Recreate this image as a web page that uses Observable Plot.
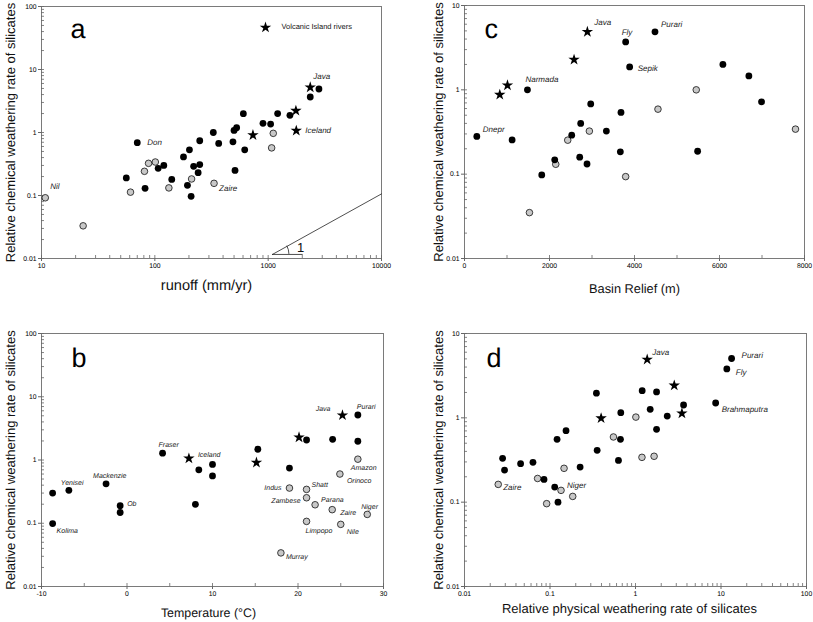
<!DOCTYPE html>
<html><head><meta charset="utf-8">
<script src="https://cdn.jsdelivr.net/npm/d3@7"></script>
<script src="https://cdn.jsdelivr.net/npm/@observablehq/plot@0.6"></script>
<style>
body{margin:0;background:#fff;}
#wrap{position:relative;width:813px;height:622px;overflow:hidden;background:#fff;}
.panel{position:absolute;opacity:0.999;}
.panel svg{font-family:"Liberation Sans",Arial,Helvetica,sans-serif;overflow:visible;text-rendering:geometricPrecision;}
</style></head><body><div id="wrap"></div>
<script>
// ---------- DATA ----------
const yLabel = "Relative chemical weathering rate of silicates";

// Panel a: runoff (mm/yr)
const runoffBlack = [[70,0.69],[56,0.19],[82,0.13],[107,0.27],[120,0.30],[141,0.18],[179,0.41],[202,0.53],[194,0.145],[209,0.097],[220,0.29],[241,0.23],[249,0.31],[249,0.74],[328,1.0],[366,0.67],[489,0.71],[500,1.08],[527,1.19],[510,0.25],[604,1.99],[621,0.53],[900,1.40],[1051,1.36],[1212,2.0],[1556,1.87],[2351,3.66],[2805,4.9]];
const runoffGray = [[10.8,0.092],[23.3,0.033],[61,0.113],[81,0.242],[88,0.324],[101,0.34],[133,0.132],[211,0.183],[333,0.156],[1109,0.97],[1073,0.57]];
const runoffStar = [[734,0.91],[1757,2.22],[1770,1.07],[2351,5.2]];
const runoffLabels = [["Don",70,0.69],["Nil",10.8,0.092],["Zaire",333,0.156],["Java",2351,5.2],["Iceland",1770,1.07]];
const slopeLine = [[1090,0.0116],[10000,0.106]];
const slopeBase = [[1090,0.0116],[2000,0.0116]];
const slopeText = [["1",1930,0.0148]];

// Panel b: temperature (°C)
const tempBlack = [[-8.7,0.30],[-8.7,0.099],[-6.8,0.331],[-2.45,0.42],[-0.8,0.189],[-0.8,0.148],[4.16,1.28],[8.0,0.199],[8.4,0.70],[10,0.85],[10,0.56],[15.3,1.48],[19,0.746],[21,2.07],[24.05,2.12],[27,1.98],[27,5.15]];
const tempGray = [[19,0.36],[21,0.343],[21,0.253],[22,0.196],[24,0.164],[24.9,0.60],[27,1.03],[28.1,0.138],[21,0.107],[25,0.096],[18,0.034]];
const tempStar = [[7.24,1.06],[15.14,0.91],[20.12,2.28],[25.2,5.1]];
const tempLabels = [["Kolima",-8.7,0.099],["Yenisei",-6.8,0.331],["Mackenzie",-2.45,0.42],["Ob",-0.8,0.189],["Fraser",4.16,1.28],["Iceland",7.24,1.06],["Java",25.2,5.1],["Purari",27,5.15],["Indus",19,0.36],["Shatt",21,0.343],["Zambese",21,0.253],["Parana",22,0.196],["Zaire",24,0.164],["Orinoco",24.9,0.60],["Amazon",27,1.03],["Niger",28.1,0.138],["Limpopo",21,0.107],["Nile",25,0.096],["Murray",18,0.034]];

// Panel c: basin relief (m)
const reliefBlack = [[290,0.28],[1120,0.255],[1481,1.0],[1818,0.098],[2123,0.148],[2523,0.29],[2711,0.159],[2734,0.40],[2883,0.132],[2970,0.68],[3338,0.324],[3667,0.184],[3682,0.54],[3792,3.70],[3886,1.87],[4482,4.87],[5485,0.187],[6080,2.0],[6691,1.46],[6989,0.72]];
const reliefGray = [[1528,0.035],[2147,0.131],[2429,0.253],[2938,0.324],[3792,0.0935],[4552,0.59],[5453,1.0],[7788,0.342]];
const reliefStar = [[830,0.875],[1011,1.13],[2578,2.28],[2891,4.87]];
const reliefLabels = [["Dnepr",290,0.28],["Narmada",1481,1.0],["Java",2891,4.87],["Fly",3792,3.70],["Purari",4482,4.87],["Sepik",3886,1.87]];

// Panel d: relative physical weathering rate
const physBlack = [[0.0279,0.331],[0.0294,0.240],[0.0453,0.286],[0.0632,0.297],[0.0851,0.186],[0.1135,0.151],[0.124,0.100],[0.121,0.556],[0.154,0.705],[0.225,0.261],[0.349,1.96],[0.356,0.412],[0.632,0.313],[0.673,1.15],[0.667,0.556],[1.197,2.10],[1.486,1.26],[1.763,2.03],[1.763,0.731],[2.35,1.05],[3.65,1.42],[8.66,1.50],[11.7,3.80],[13.3,5.05]];
const physGray = [[0.0248,0.1625],[0.0716,0.191],[0.0914,0.096],[0.1346,0.138],[0.146,0.252],[0.1844,0.117],[0.552,0.593],[1.01,1.02],[1.19,0.340],[1.65,0.35]];
const physStar = [[0.396,0.99],[1.37,4.91],[2.84,2.42],[3.49,1.13]];
const physLabels = [["Zaire",0.0248,0.1625],["Niger",0.1346,0.138],["Java",1.37,4.91],["Purari",13.3,5.05],["Fly",11.7,3.80],["Brahmaputra",8.66,1.50]];

// Tick values
const ticksRunoff = [10,100,1000,10000];
const ticksTemp = [-10,0,10,20,30];
const ticksRelief = [0,2000,4000,6000,8000];
const ticksPhys = [0.01,0.1,1,10,100];
const ticksRate100 = [0.01,0.1,1,10,100];
const ticksRate10 = [0.01,0.1,1,10];
const legendText = "Volcanic Island rivers";

// ---------- STYLE (label nudges: dx, dy, anchor) ----------
const nudgeA = {Don:[10,0],Nil:[5,-11],Zaire:[5,5],Java:[3,-11],Iceland:[9,0]};
const nudgeB = {Kolima:[4,7],Yenisei:[-8,-8],Mackenzie:[-13,-8],Ob:[7,-2],Fraser:[-4,-8],Iceland:[9,-4],Java:[-12,-6,"end"],Purari:[-1,-8],Indus:[-8,0,"end"],Shatt:[5,-5],Zambese:[-6,3,"end"],Parana:[6,-5],Zaire:[8,3],Orinoco:[7,7],Amazon:[-7,9],Niger:[-6,-8],Limpopo:[-1,9],Nile:[6,7],Murray:[5,4]};
const nudgeC = {Dnepr:[6,-7],Narmada:[-2,-10],Java:[7,-9],Fly:[-4,-9],Purari:[6,-7],Sepik:[8,2]};
const nudgeD = {Zaire:[5,3],Niger:[6,-5],Java:[5,-7],Purari:[10,-3],Fly:[9,3],Brahmaputra:[6,6]};

function logMinor(lo, hi) {
  const out = [];
  for (let e = Math.log10(lo); e < Math.log10(hi); e++)
    for (let k = 1; k < 10; k++) out.push(k * Math.pow(10, e));
  out.push(hi);
  return out;
}
function linMinor(ticks) {
  const out = [...ticks];
  for (let i = 0; i < ticks.length - 1; i++) out.push((ticks[i] + ticks[i+1]) / 2);
  return out;
}
const fmt = d => String(+d.toPrecision(6));

function panel(o) {
  const [mt, mr, mb, ml] = o.margins;
  const pw = o.width - ml - mr, ph = o.height - mt - mb;
  const marks = [
    Plot.frame({stroke: "#7a7a7a", strokeWidth: 1}),
    Plot.tickX(o.xMinor, {x: d => d, insetTop: ph - 3, stroke: "#666", strokeWidth: 0.8}),
    Plot.tickY(o.yMinor, {y: d => d, insetRight: pw - 3, stroke: "#666", strokeWidth: 0.8}),
    Plot.axisX({ticks: o.xTicks, tickFormat: fmt, tickSize: 3, tickPadding: 1.5, fontSize: 6.8, label: null, stroke: "#666", fill: "#000"}),
    Plot.axisY({ticks: o.yTicks, tickFormat: fmt, tickSize: 3, tickPadding: 2, fontSize: 6.8, label: null, stroke: "#666", fill: "#000"}),
    ...(o.extra || []),
    Plot.dot(o.gray, {x: d => d[0], y: d => d[1], r: 3.3, fill: "#c8c8c8", stroke: "#111", strokeWidth: 0.8}),
    Plot.dot(o.black, {x: d => d[0], y: d => d[1], r: 3.4, fill: "#000"}),
    Plot.dot(o.star, {x: d => d[0], y: d => d[1], symbol: "star", r: 3.6, fill: "#000", stroke: "none"}),
    ...o.labels.map(l => {
      const n = o.nudges[l[0]] || [4, 0];
      return Plot.text([l], {x: d => d[1], y: d => d[2], text: d => d[0], dx: n[0], dy: n[1],
        textAnchor: n[2] || "start", lineAnchor: "middle", fontStyle: "italic", fontSize: o.labelSize, fill: "#222"});
    }),
    Plot.text([o.letter], {text: d => d, frameAnchor: "top-left", dx: o.letterDx, dy: o.letterDy,
      textAnchor: "start", lineAnchor: "bottom", fontSize: 27, fill: "#000"}),
    Plot.text([o.xLabel], {text: d => d, frameAnchor: "bottom", dx: o.xLabelDx, dy: o.xLabelDy,
      lineAnchor: "middle", fontSize: o.xLabelSize, fill: "#111"}),
    Plot.text([yLabel], {text: d => d, frameAnchor: "left", dx: o.yLabelDx, rotate: -90,
      textAnchor: "middle", lineAnchor: "middle", fontSize: 13, fill: "#111"})
  ];
  const svg = Plot.plot({
    width: o.width, height: o.height,
    marginTop: mt, marginRight: mr, marginBottom: mb, marginLeft: ml,
    x: o.xScale, y: o.yScale,
    style: {fontFamily: '"Liberation Sans", Arial, Helvetica, sans-serif', background: "white", overflow: "visible"},
    marks
  });
  const div = document.createElement("div");
  div.className = "panel";
  div.style.left = o.left + "px";
  div.style.top = o.top + "px";
  div.appendChild(svg);
  document.getElementById("wrap").appendChild(div);
}

// Slope-1 arc decoration (drawn through the scales)
function slopeArc(index, scales) {
  if (!scales || typeof scales.x !== "function") return null;
  const x0 = scales.x(slopeLine[0][0]), y0 = scales.y(slopeLine[0][1]);
  const x1 = scales.x(slopeLine[1][0]), y1 = scales.y(slopeLine[1][1]);
  const a = Math.atan2(y1 - y0, x1 - x0), r = 17;
  const p = document.createElementNS("http://www.w3.org/2000/svg", "path");
  p.setAttribute("d", `M${x0 + r},${y0}A${r},${r} 0 0 0 ${x0 + r * Math.cos(a)},${y0 + r * Math.sin(a)}`);
  p.setAttribute("fill", "none");
  p.setAttribute("stroke", "#222");
  p.setAttribute("stroke-width", "0.8");
  return p;
}

// Panel a
panel({
  left: 0, top: 0, width: 406, height: 305, margins: [6, 25, 47, 41],
  xScale: {type: "log", domain: [10, 10000]}, yScale: {type: "log", domain: [0.01, 100]},
  xTicks: ticksRunoff, yTicks: ticksRate100, xMinor: logMinor(10, 10000), yMinor: logMinor(0.01, 100),
  black: runoffBlack, gray: runoffGray, star: runoffStar, labels: runoffLabels, nudges: nudgeA, labelSize: 8,
  letter: "a", letterDx: 29, letterDy: 31, xLabel: "runoff (mm/yr)", xLabelSize: 14.6, xLabelDx: -5, xLabelDy: 27, yLabelDx: -31,
  extra: [
    Plot.line(slopeLine, {x: d => d[0], y: d => d[1], stroke: "#222", strokeWidth: 0.8}),
    Plot.line(slopeBase, {x: d => d[0], y: d => d[1], stroke: "#222", strokeWidth: 0.8}),
    Plot.text(slopeText, {x: d => d[1], y: d => d[2], text: d => d[0], fontSize: 13, fill: "#111"}),
    slopeArc,
    Plot.dot([legendText], {frameAnchor: "top-right", dx: -116, dy: 21, symbol: "star", r: 3.6, fill: "#000"}),
    Plot.text([legendText], {text: d => d, frameAnchor: "top-right", dx: -100, dy: 20, textAnchor: "start", lineAnchor: "middle", fontSize: 7.5, fill: "#111"})
  ]
});

// Panel c
panel({
  left: 410, top: 0, width: 403, height: 305, margins: [5, 9, 47, 54],
  xScale: {type: "linear", domain: [0, 8000]}, yScale: {type: "log", domain: [0.01, 10]},
  xTicks: ticksRelief, yTicks: ticksRate10, xMinor: linMinor(ticksRelief), yMinor: logMinor(0.01, 10),
  black: reliefBlack, gray: reliefGray, star: reliefStar, labels: reliefLabels, nudges: nudgeC, labelSize: 8,
  letter: "c", letterDx: 20, letterDy: 32, xLabel: "Basin Relief (m)", xLabelSize: 12.8, xLabelDx: 0, xLabelDy: 30, yLabelDx: -26
});

// Panel b
panel({
  left: 0, top: 310, width: 406, height: 312, margins: [23, 23, 36, 41],
  xScale: {type: "linear", domain: [-10, 30]}, yScale: {type: "log", domain: [0.01, 100]},
  xTicks: ticksTemp, yTicks: ticksRate100, xMinor: linMinor(ticksTemp), yMinor: logMinor(0.01, 100),
  black: tempBlack, gray: tempGray, star: tempStar, labels: tempLabels, nudges: nudgeB, labelSize: 7,
  letter: "b", letterDx: 30, letterDy: 33, xLabel: "Temperature (°C)", xLabelSize: 12.4, xLabelDx: -4, xLabelDy: 27, yLabelDx: -31
});

// Panel d
panel({
  left: 410, top: 310, width: 403, height: 312, margins: [23, 7, 36, 54],
  xScale: {type: "log", domain: [0.01, 100]}, yScale: {type: "log", domain: [0.01, 10]},
  xTicks: ticksPhys, yTicks: ticksRate10, xMinor: logMinor(0.01, 100), yMinor: logMinor(0.01, 10),
  black: physBlack, gray: physGray, star: physStar, labels: physLabels, nudges: nudgeD, labelSize: 8,
  letter: "d", letterDx: 22, letterDy: 33, xLabel: "Relative physical weathering rate of silicates", xLabelSize: 13, xLabelDx: -6, xLabelDy: 22, yLabelDx: -26
});
</script></body></html>
